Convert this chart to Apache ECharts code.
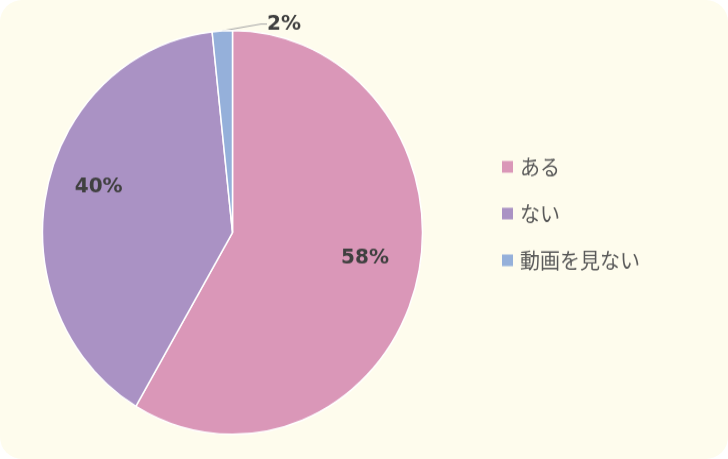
<!DOCTYPE html>
<html>
<head>
<meta charset="utf-8">
<script src="https://cdn.jsdelivr.net/npm/echarts@6/dist/echarts.min.js"></script>
<style>
html,body{margin:0;padding:0;background:#ffffff;}
#wrap{position:absolute;left:0;top:0;width:728px;height:459px;background:#FEFCED;border-radius:22px;overflow:hidden;}
#chart{position:absolute;left:0;top:0;width:728px;height:432px;transform:scaleY(1.0625);transform-origin:0 0;}
</style>
</head>
<body>
<div id="wrap"><div id="chart"></div></div>
<script>
var categories = ['ある', 'ない', '動画を見ない'];
var values = [58.49, 39.8, 1.71];
var colors = ['#DA97B8', '#AA92C4', '#95B0DA'];

var chart = echarts.init(document.getElementById('chart'), null, {renderer: 'canvas'});
var option = {
  backgroundColor: 'transparent',
  animation: false,
  color: colors,
  legend: {
    orient: 'vertical',
    left: 502,
    top: 147,
    padding: 0,
    itemWidth: 11,
    itemHeight: 11,
    itemGap: 24,
    icon: 'rect',
    selectedMode: false,
    itemStyle: {borderWidth: 0},
    textStyle: {
      fontFamily: '"Noto Sans CJK JP", sans-serif',
      fontSize: 20,
      color: '#595959',
      padding: [0, 0, 0, 2]
    },
    data: categories
  },
  series: [{
    type: 'pie',
    center: [232.5, 218.8],
    radius: [0, 190],
    startAngle: 90,
    clockwise: true,
    silent: true,
    emphasis: {disabled: true},
    itemStyle: {borderColor: '#ffffff', borderWidth: 1.5},
    label: {
      show: true,
      position: 'inside',
      formatter: function (p) { return Math.round(p.value) + '%'; },
      fontFamily: '"DejaVu Sans", sans-serif',
      fontWeight: 'bold',
      fontSize: 20,
      color: '#404040'
    },
    labelLine: {show: false},
    data: categories.map(function (c, i) {
      var d = {name: c, value: values[i]};
      if (i === 2) {
        d.label = {position: 'outside'};
        d.labelLine = {show: true, length: 8, length2: 6, lineStyle: {color: '#A6A6A6', width: 1}};
      }
      return d;
    })
  }]
};
option.series[0].labelLayout = function (p) {
  if (p.dataIndex === 0) return {dx: 38, dy: -2};
  if (p.dataIndex === 1) return {dx: -38, dy: -22};
  if (p.dataIndex === 2) return {x: 284, y: 22.6, align: 'center', verticalAlign: 'middle'};
  return {};
};
chart.setOption(option);
</script>
</body>
</html>
